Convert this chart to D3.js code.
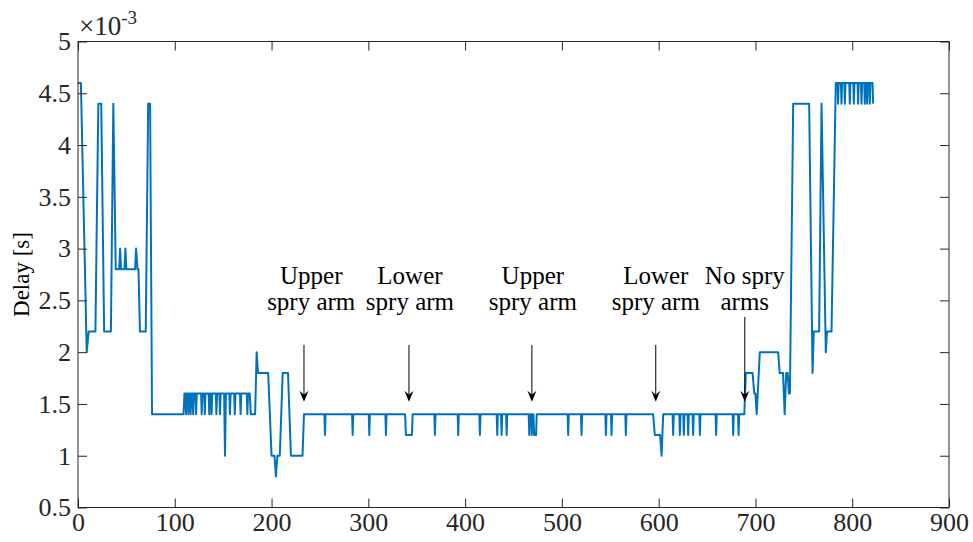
<!DOCTYPE html>
<html>
<head>
<meta charset="utf-8">
<script src="https://cdn.jsdelivr.net/npm/d3@7"></script>
<style>
  body { margin: 0; background: #fff; }
  svg { display: block; }
</style>
</head>
<body>
<svg id="chart" width="973" height="542"></svg>
<script>
// delay in ms (plotted as x10^-3 s) versus sample index
const segStart = [
  [0,4.6],[3,4.6],[9,2.0],[11,2.2],[18,2.2],[21,4.4],[24,4.4],[27,2.2],[34,2.2],[36.5,4.4],
  [39,2.8],[42.5,2.8],[43.5,3.0],[44.5,2.8],[48,2.8],[49,3.0],[50,2.8],[59,2.8],[60,3.0],
  [61.5,2.8],[62.5,2.8],[64,2.2],[70,2.2],[72.5,4.4],[74.5,4.4],[76.5,1.4],[109,1.4]
];
const segNoiseLow = [
  [110,1.6],[111,1.6],[111.6,1.4],[112.3,1.6],[113.4,1.6],[114,1.4],[114.7,1.6],[115.8,1.6],
  [116.4,1.4],[117.1,1.6],[118.4,1.6],[119,1.4],[119.7,1.6],[121.4,1.6],[122,1.4],[122.7,1.6],
  [127.2,1.6],[127.8,1.4],[128.5,1.6],[130.4,1.6],[131,1.4],[131.7,1.6],[135,1.6],[135.6,1.4],
  [136.3,1.6],[137.4,1.6],[138,1.4],[138.7,1.6],[142.4,1.6],[143,1.4],[143.7,1.6],[146.1,1.6],
  [146.7,1.4],[147.4,1.6],[151,1.6],[151.9,1.0],[152.8,1.6],[156.4,1.6],[157,1.4],[157.7,1.6],
  [161.4,1.6],[162,1.4],[162.7,1.6],[167.4,1.6],[168,1.4],[168.7,1.6],[174.4,1.6],[175,1.4],
  [175.7,1.6],[177.5,1.6],[178.5,1.4],[183,1.4]
];
const segMiddle = [
  [184.6,2.0],[186,1.8],[196.5,1.8],[200,1.0],[203,1.0],[204.5,0.8],[206,1.0],[208.5,1.0],
  [211.5,1.8],[217,1.8],[220,1.0],[232,1.0],[233.5,1.4]
];
const segBaseline = [
  [254.6,1.4],[255.2,1.2],[255.8,1.4],[283.2,1.4],[283.8,1.2],[284.4,1.4],
  [300.4,1.4],[301,1.2],[301.6,1.4],[317.6,1.4],[318.2,1.2],[318.8,1.4],
  [338,1.4],[338.8,1.2],[345,1.2],[345.8,1.4],[368.2,1.4],[368.8,1.2],[369.4,1.4],
  [392.3,1.4],[392.9,1.2],[393.5,1.4],[414.7,1.4],[415.3,1.2],[415.9,1.4],
  [432.6,1.4],[433.2,1.2],[433.8,1.4],[437.1,1.4],[437.7,1.2],[438.3,1.4],
  [442.3,1.4],[442.9,1.2],[443.5,1.4],[465.7,1.4],[466.3,1.2],[466.9,1.4],
  [468.3,1.4],[468.9,1.2],[469.5,1.4],[470.6,1.4],[471.3,1.2],[473.3,1.2],[474,1.4],
  [505.9,1.4],[506.5,1.2],[507.1,1.4],[519.7,1.4],[520.3,1.2],[520.9,1.4],
  [544.9,1.4],[545.5,1.2],[546.1,1.4],[550.7,1.4],[551.3,1.2],[551.9,1.4],
  [565.5,1.4],[566.1,1.2],[566.7,1.4],
  [594.3,1.4],[596,1.2],[601.5,1.2],[603,1.0],[604.7,1.4],
  [614.4,1.4],[615,1.2],[615.6,1.4],[621.3,1.4],[621.9,1.2],[622.5,1.4],
  [625.4,1.4],[626,1.2],[626.6,1.4],[629.9,1.4],[630.5,1.2],[631.1,1.4],
  [635,1.4],[635.6,1.2],[636.2,1.4],[642,1.4],[642.6,1.2],[643.2,1.4],
  [658.8,1.4],[659.4,1.2],[660,1.4],[676.4,1.4],[677,1.2],[677.6,1.4],
  [682,1.4],[682.6,1.2],[683.2,1.4],[688.5,1.4]
];
const segRise = [
  [690,1.8],[697,1.8],[698.8,1.6],[700,1.6],[701.3,1.4],[704.5,2.0],[723.5,2.0],[725,1.8],
  [728.5,1.8],[730.2,1.4],[731.8,1.8],[733.3,1.8],[734.6,1.6],[735.6,1.6],[739,4.4],
  [755.5,4.4],[759,1.8],[760.3,2.2],[765.8,2.2],[768.3,4.4],[772.7,2.0],[774,2.2],
  [778.6,2.2],[783,4.6]
];
const segNoiseHigh = [
  [784.8,4.6],[785.4,4.4],[786,4.6],[788.3,4.6],[788.9,4.4],[789.5,4.6],[791.8,4.6],
  [792.4,4.4],[793,4.6],[796.9,4.6],[797.5,4.4],[798.1,4.6],[801.1,4.6],[801.7,4.4],
  [802.3,4.6],[805.5,4.6],[806.1,4.4],[806.7,4.6],[809,4.6],[809.6,4.4],[810.2,4.6],
  [812.4,4.6],[813,4.4],[813.6,4.6],[814.8,4.6],[815.4,4.4],[816,4.6],[817.6,4.6],
  [818.2,4.4],[818.8,4.6],[821,4.6],[821.6,4.4]
];

const xTicks = [0, 100, 200, 300, 400, 500, 600, 700, 800, 900];
const yTicks = [0.5, 1, 1.5, 2, 2.5, 3, 3.5, 4, 4.5, 5];

// annotations: label lines, arrow x, arrow tail / tip (y in ms)
const annoLines = [["Upper", "spry arm"], ["Lower", "spry arm"], ["Upper", "spry arm"],
                   ["Lower", "spry arm"], ["No spry", "arms"]];
const annoX     = [233.5, 342, 469, 597, 689];
const annoTextX = [241, 343, 470, 597, 689];
const annoTail  = [2.07, 2.07, 2.07, 2.07, 2.34];
const annoTip   = [1.52, 1.52, 1.52, 1.52, 1.52];

const delay = [].concat(segStart, segNoiseLow, segMiddle, segBaseline, segRise, segNoiseHigh);

const FONT = "Liberation Serif";
const W = 973, H = 542;
const M = {left: 78, right: 24, top: 41.5, bottom: 34.5};
const svg = d3.select("#chart").attr("font-family", FONT);

const x = d3.scaleLinear().domain([0, 900]).range([M.left, W - M.right]);
const y = d3.scaleLinear().domain([0.5, 5]).range([H - M.bottom, M.top]);

svg.append("clipPath").attr("id", "clip")
  .append("rect")
  .attr("x", M.left).attr("y", M.top)
  .attr("width", x(900) - M.left).attr("height", y(0.5) - M.top);

// data line
svg.append("path")
  .datum(delay)
  .attr("clip-path", "url(#clip)")
  .attr("fill", "none")
  .attr("stroke", "#0072BD")
  .attr("stroke-width", 2)
  .attr("stroke-linejoin", "round")
  .attr("d", d3.line().x(d => x(d[0])).y(d => y(d[1])));

const fmt = d => String(d);

function styleAxis(g) {
  g.attr("font-family", FONT).attr("font-size", 26);
  g.select(".domain").remove();
  g.selectAll("line").attr("stroke", "#262626");
  g.selectAll("text").attr("fill", "#262626");
}

// axes, ticks pointing inward like matlab
svg.append("g")
  .attr("transform", `translate(0,${y(0.5)})`)
  .call(d3.axisBottom(x).tickValues(xTicks).tickFormat(fmt).tickSizeInner(-9).tickSizeOuter(0).tickPadding(5))
  .call(styleAxis);

svg.append("g")
  .attr("transform", `translate(0,${y(5)})`)
  .call(d3.axisTop(x).tickValues(xTicks).tickFormat("").tickSizeInner(-9).tickSizeOuter(0))
  .call(styleAxis);

svg.append("g")
  .attr("transform", `translate(${x(0)},0)`)
  .call(d3.axisLeft(y).tickValues(yTicks).tickFormat(fmt).tickSizeInner(-9).tickSizeOuter(0).tickPadding(7))
  .call(styleAxis);

svg.append("g")
  .attr("transform", `translate(${x(900)},0)`)
  .call(d3.axisRight(y).tickValues(yTicks).tickFormat("").tickSizeInner(-9).tickSizeOuter(0))
  .call(styleAxis);

// box
svg.append("rect")
  .attr("x", x(0)).attr("y", y(5))
  .attr("width", x(900) - x(0)).attr("height", y(0.5) - y(5))
  .attr("fill", "none").attr("stroke", "#262626").attr("stroke-width", 1);

// exponent label
const ex = svg.append("text")
  .attr("x", x(0) + 1).attr("y", 35)
  .attr("font-size", 27).attr("fill", "#262626")
  .text("\u00d710");
ex.append("tspan").attr("dy", -11).attr("font-size", 19).text("-3");

// y label
svg.append("text")
  .attr("transform", `translate(29,${(y(0.5) + y(5)) / 2}) rotate(-90)`)
  .attr("text-anchor", "middle")
  .attr("font-size", 23).attr("fill", "#000")
  .text("Delay [s]");

// annotations
const anno = svg.append("g");
annoLines.forEach((lines, i) => {
  const t = anno.append("text")
    .attr("text-anchor", "middle")
    .attr("font-size", 25).attr("fill", "#000");
  lines.forEach((s, j) => {
    t.append("tspan").attr("x", x(annoTextX[i])).attr("y", 284 + j * 26).text(s);
  });
  const ax = x(annoX[i]), y0 = y(annoTail[i]), y1 = y(annoTip[i]);
  anno.append("line")
    .attr("x1", ax).attr("x2", ax).attr("y1", y0).attr("y2", y1 - 4)
    .attr("stroke", "#000").attr("stroke-width", 1);
  anno.append("path")
    .attr("d", `M${ax},${y1} L${ax - 4.5},${y1 - 11} L${ax},${y1 - 7} L${ax + 4.5},${y1 - 11} Z`)
    .attr("fill", "#000");
});
</script>
</body>
</html>
